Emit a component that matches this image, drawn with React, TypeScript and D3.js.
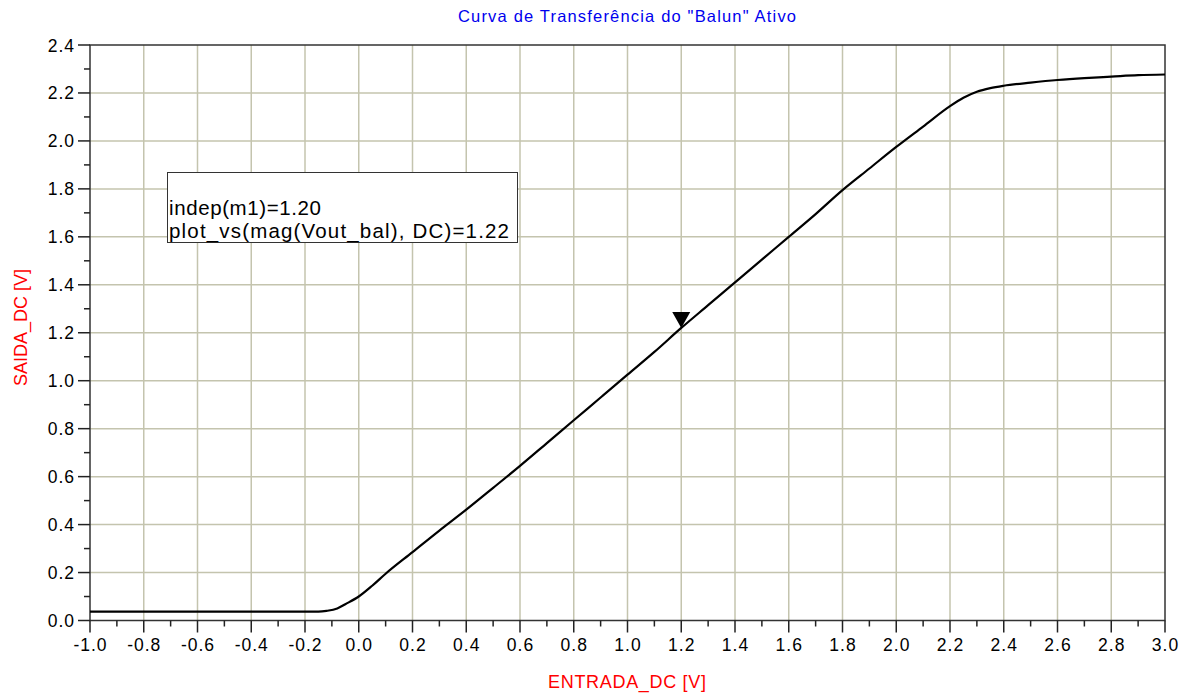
import * as d3 from "d3";
import React, { useEffect, useRef } from "react";

// transfer curve
const entrada = [-1.0, -0.5, -0.15, -0.12, -0.08, -0.05, 0.0, 0.05, 0.1, 0.2, 0.3, 0.4, 0.5, 0.6, 0.7, 0.8, 0.9, 1.0, 1.1, 1.2, 1.3, 1.4, 1.5, 1.6, 1.7, 1.8, 1.9, 2.0, 2.1, 2.2, 2.25, 2.3, 2.35, 2.4, 2.5, 2.6, 2.7, 2.8, 2.9, 3.0];
const saida = [0.037, 0.037, 0.037, 0.04, 0.05, 0.068, 0.1, 0.145, 0.195, 0.285, 0.375, 0.462, 0.553, 0.645, 0.74, 0.835, 0.93, 1.025, 1.12, 1.22, 1.315, 1.41, 1.505, 1.6, 1.695, 1.795, 1.885, 1.975, 2.06, 2.145, 2.18, 2.205, 2.22, 2.23, 2.243, 2.254, 2.262, 2.268, 2.274, 2.277];
const xTicks = [-1.0, -0.8, -0.6, -0.4, -0.2, 0.0, 0.2, 0.4, 0.6, 0.8, 1.0, 1.2, 1.4, 1.6, 1.8, 2.0, 2.2, 2.4, 2.6, 2.8, 3.0];
const yTicks = [0.0, 0.2, 0.4, 0.6, 0.8, 1.0, 1.2, 1.4, 1.6, 1.8, 2.0, 2.2, 2.4];
const markerX = 1.2;
const markerY = 1.22;
const legendLines = ["indep(m1)=1.20", "plot_vs(mag(Vout_bal), DC)=1.22"];

const W = 1186;
const H = 694;
const FONT = "'Liberation Sans', Arial, sans-serif";

const App: React.FC = () => {
  const ref = useRef<SVGSVGElement>(null);

  useEffect(() => {
    if (!ref.current) return;
    const svg = d3.select(ref.current);
    svg.selectAll("*").remove();

    const left = 90, right = 1165, top = 45, bottom = 620.5;
    const x = d3.scaleLinear().domain([-1, 3]).range([left, right]);
    const y = d3.scaleLinear().domain([0, 2.4]).range([bottom, top]);

    svg.append("rect").attr("width", W).attr("height", H).attr("fill", "#fff");

    // grid
    const grid = svg.append("g").attr("stroke", "#c4c4ae").attr("stroke-width", 1.5);
    xTicks.slice(1, -1).forEach((t) => {
      grid.append("line").attr("x1", x(t)).attr("x2", x(t)).attr("y1", top).attr("y2", bottom);
    });
    yTicks.slice(1, -1).forEach((t) => {
      grid.append("line").attr("x1", left).attr("x2", right).attr("y1", y(t)).attr("y2", y(t));
    });

    // frame
    svg.append("rect")
      .attr("x", left).attr("y", top)
      .attr("width", right - left).attr("height", bottom - top)
      .attr("fill", "none").attr("stroke", "#333").attr("stroke-width", 1.5);

    // ticks
    const ax = svg.append("g").attr("stroke", "#222").attr("stroke-width", 1.5);
    xTicks.forEach((t, i) => {
      ax.append("line").attr("x1", x(t)).attr("x2", x(t)).attr("y1", bottom).attr("y2", bottom + 12);
      if (i < xTicks.length - 1) {
        const m = (t + xTicks[i + 1]) / 2;
        ax.append("line").attr("x1", x(m)).attr("x2", x(m)).attr("y1", bottom).attr("y2", bottom + 6);
      }
    });
    yTicks.forEach((t, i) => {
      ax.append("line").attr("x1", left - 12).attr("x2", left).attr("y1", y(t)).attr("y2", y(t));
      if (i < yTicks.length - 1) {
        const m = (t + yTicks[i + 1]) / 2;
        ax.append("line").attr("x1", left - 6).attr("x2", left).attr("y1", y(m)).attr("y2", y(m));
      }
    });

    svg.append("g").selectAll("text").data(xTicks).enter().append("text")
      .attr("x", (d) => x(d) + 0.5).attr("y", 651)
      .attr("text-anchor", "middle")
      .style("font-family", FONT).style("font-size", "17.5px").style("letter-spacing", "1px")
      .text((d) => d.toFixed(1));

    svg.append("g").selectAll("text").data(yTicks).enter().append("text")
      .attr("x", 75).attr("y", (d) => y(d) + 6.5)
      .attr("text-anchor", "end")
      .style("font-family", FONT).style("font-size", "17.5px").style("letter-spacing", "1px")
      .text((d) => d.toFixed(1));

    // curve
    const pts = entrada.map((e, i) => [e, saida[i]] as [number, number]);
    const line = d3.line<[number, number]>().x((d) => x(d[0])).y((d) => y(d[1])).curve(d3.curveMonotoneX);
    svg.append("path").attr("d", line(pts) || "")
      .attr("fill", "none").attr("stroke", "#000").attr("stroke-width", 2.2);

    // marker
    const mx = x(markerX), my = y(markerY);
    svg.append("path")
      .attr("d", `M${mx - 9},${my - 16}L${mx + 9},${my - 16}L${mx},${my}Z`)
      .attr("fill", "#000");

    // legend box
    svg.append("rect")
      .attr("x", 167.5).attr("y", 172.5).attr("width", 350).attr("height", 70)
      .attr("fill", "#fff").attr("stroke", "#333").attr("stroke-width", 1);
    const legendWidths = [152, 340];
    legendLines.forEach((l, i) => {
      svg.append("text")
        .attr("x", 169).attr("y", 215 + i * 23)
        .attr("textLength", legendWidths[i]).attr("lengthAdjust", "spacing")
        .style("font-family", FONT).style("font-size", "20.5px")
        .text(l);
    });

    // titles
    svg.append("text")
      .attr("x", 458).attr("y", 22)
      .attr("textLength", 338).attr("lengthAdjust", "spacing")
      .attr("fill", "#0000ee")
      .style("font-family", FONT).style("font-size", "16.5px")
      .text('Curva de Transferência do "Balun" Ativo');

    svg.append("text")
      .attr("x", 548).attr("y", 688)
      .attr("textLength", 158).attr("lengthAdjust", "spacing")
      .attr("fill", "#ff0000")
      .style("font-family", FONT).style("font-size", "18px")
      .text("ENTRADA_DC [V]");

    svg.append("text")
      .attr("transform", `translate(27,386) rotate(-90)`)
      .attr("textLength", 117).attr("lengthAdjust", "spacing")
      .attr("fill", "#ff0000")
      .style("font-family", FONT).style("font-size", "18px")
      .text("SAIDA_DC [V]");
  }, []);

  return (
    <svg ref={ref} width={W} height={H} style={{ position: "absolute", left: 0, top: 0 }} />
  );
};

export default App;
